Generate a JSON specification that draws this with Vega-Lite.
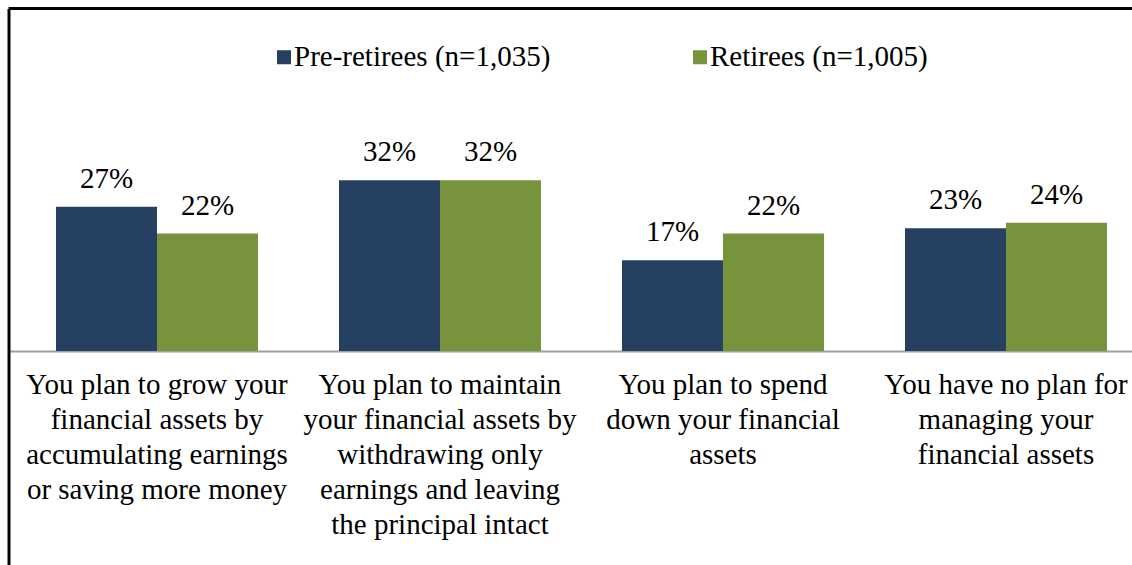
{
  "$schema": "https://vega.github.io/schema/vega-lite/v6.json",
  "width": 1123.5,
  "height": 556.5,
  "autosize": {"type": "none"},
  "padding": {"left": 8.5, "top": 8.5, "right": 0, "bottom": 0},
  "background": "white",
  "config": {"view": {"stroke": null}, "font": "Liberation Serif"},
  "data": {
    "values": [
      {"category": "You plan to grow your|financial assets by|accumulating earnings|or saving more money", "series": "Pre-retirees (n=1,035)", "value": 0.27},
      {"category": "You plan to grow your|financial assets by|accumulating earnings|or saving more money", "series": "Retirees (n=1,005)", "value": 0.22},
      {"category": "You plan to maintain|your financial assets by|withdrawing only|earnings and leaving|the principal intact", "series": "Pre-retirees (n=1,035)", "value": 0.32},
      {"category": "You plan to maintain|your financial assets by|withdrawing only|earnings and leaving|the principal intact", "series": "Retirees (n=1,005)", "value": 0.32},
      {"category": "You plan to spend|down your financial|assets", "series": "Pre-retirees (n=1,035)", "value": 0.17},
      {"category": "You plan to spend|down your financial|assets", "series": "Retirees (n=1,005)", "value": 0.22},
      {"category": "You have no plan for|managing your|financial assets", "series": "Pre-retirees (n=1,035)", "value": 0.23},
      {"category": "You have no plan for|managing your|financial assets", "series": "Retirees (n=1,005)", "value": 0.24}
    ]
  },
  "layer": [
    {
      "encoding": {
        "x": {
          "field": "category",
          "type": "nominal",
          "sort": null,
          "scale": {"paddingInner": 0.2862, "paddingOuter": 0.1281, "align": 0.655},
          "axis": {
            "title": null,
            "orient": "bottom",
            "offset": -214,
            "ticks": false,
            "tickSize": 0,
            "labelPadding": 19,
            "labelAngle": 0,
            "labelFont": "Liberation Serif",
            "labelFontSize": 29,
            "labelColor": "black",
            "labelLineHeight": 35,
            "labelExpr": "split(datum.label, '|')",
            "labelLimit": 0,
            "labelOverlap": false,
            "domainColor": "#A0A0A0",
            "domainWidth": 2
          }
        },
        "xOffset": {"field": "series", "type": "nominal"},
        "y": {
          "field": "value",
          "type": "quantitative",
          "scale": {"domain": [-0.4007, 0.6414], "nice": false, "zero": false},
          "axis": {"orient": "left", "domain": true, "domainColor": "black", "domainWidth": 3, "ticks": false, "labels": false, "grid": false, "title": null}
        }
      },
      "layer": [
        {
          "mark": {"type": "bar"},
          "encoding": {
            "color": {
              "field": "series",
              "type": "nominal",
              "scale": {"domain": ["Pre-retirees (n=1,035)", "Retirees (n=1,005)"], "range": ["#264061", "#77933C"]},
              "legend": {
                "orient": "none",
                "legendX": 261,
                "legendY": 34,
                "padding": 0,
                "direction": "horizontal",
                "title": null,
                "symbolType": "square",
                "symbolSize": 196,
                "symbolStrokeWidth": 0,
                "symbolOffset": 0,
                "labelFont": "Liberation Serif",
                "labelFontSize": 29,
                "labelColor": "black",
                "labelOffset": -4.5,
                "columnPadding": 135,
                "labelLimit": 0
              }
            }
          }
        },
        {
          "mark": {"type": "text", "dy": -19, "baseline": "alphabetic", "fontSize": 29, "font": "Liberation Serif", "color": "black"},
          "encoding": {"text": {"field": "value", "type": "quantitative", "format": ".0%"}}
        }
      ]
    },
    {
      "data": {"values": [{"edge": "top"}]},
      "mark": {"type": "rule", "color": "black", "strokeWidth": 3},
      "encoding": {"y": {"datum": 0.6414}}
    }
  ]
}
